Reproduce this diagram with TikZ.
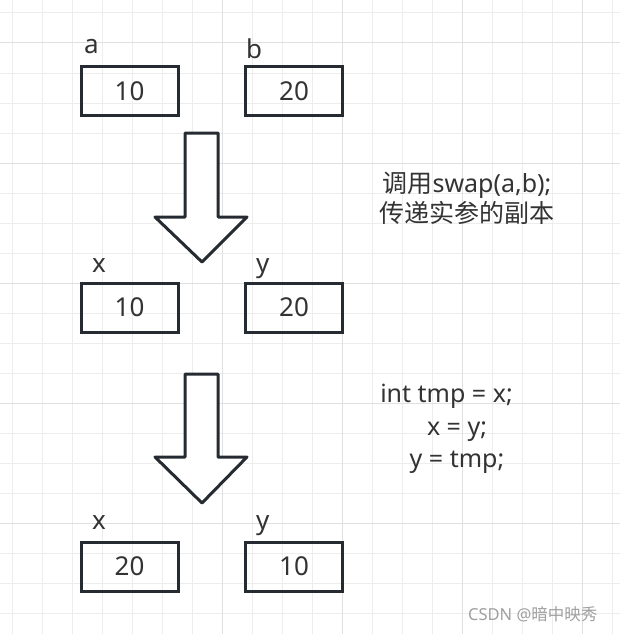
\documentclass[tikz,border=0pt]{standalone}
\usepackage{fontspec}
\setmainfont{Noto Sans}
\newfontfamily\cjk{Noto Sans CJK SC}
\definecolor{boxcol}{HTML}{252B31}
\definecolor{txtcol}{HTML}{333333}
\definecolor{gridcol}{HTML}{EDEDED}
\definecolor{majorcol}{HTML}{E0E0E0}
\begin{document}
\begin{tikzpicture}[x=1pt,y=-1pt]
\tikzstyle{every node}+=[inner sep=0pt, text=txtcol]
\tikzstyle{valbox}=[draw=boxcol, line width=3pt, minimum width=97pt, minimum height=49pt, font=\fontsize{26}{30}\selectfont]
\tikzstyle{varname}=[anchor=base west, font=\fontsize{26}{30}\selectfont]
\tikzstyle{bigarrow}=[draw=boxcol, fill=white, line width=3pt, line join=round]
\tikzstyle{note}=[anchor=base, font=\fontsize{25}{30}\selectfont]
\useasboundingbox (0,0) rectangle (620,634);
\fill[white] (0,0) rectangle (620,634);
% grid
\foreach \x in {12,42,...,612} \draw [gridcol, line width=1pt] (\x,0) -- (\x,634);
\foreach \y in {13,43,...,613} \draw [gridcol, line width=1pt] (0,\y) -- (620,\y);
\foreach \x in {222,342,462,582} \draw [majorcol, line width=1pt] (\x,0) -- (\x,634);
\foreach \y in {43,163,283,403,523} \draw [majorcol, line width=1pt] (0,\y) -- (620,\y);
% first row
\node [valbox] (a) at (129.5,91) {10};
\node [valbox] (b) at (294,91) {20};
\node [varname] (la) at (84,53) {a};
\node [varname] (lb) at (246,59) {b};
% arrow 1
\draw [bigarrow] (185,133) -- (218,133) -- (218,217) -- (247,217) -- (202,262) -- (155,217) -- (185,217) -- cycle;
\node [note] (call1) at (467,192) {{\cjk 调用}swap(a,b);};
\node [note] (call2) at (467,222) {\cjk 传递实参的副本};
% second row
\node [valbox] (x1) at (129.5,307.5) {10};
\node [valbox] (y1) at (294,307.5) {20};
\node [varname] (lx1) at (92,272) {x};
\node [varname] (ly1) at (256,272) {y};
% arrow 2
\draw [bigarrow] (185,374) -- (218,374) -- (218,457) -- (247,457) -- (202,503) -- (155,457) -- (185,457) -- cycle;
\node [note] (body1) at (446.5,402) {int tmp = x;};
\node [note] (body2) at (457,435) {x = y;};
\node [note] (body3) at (457,467) {y = tmp;};
% third row
\node [valbox] (x2) at (129.5,566.5) {20};
\node [valbox] (y2) at (294,566.5) {10};
\node [varname] (lx2) at (92,529) {x};
\node [varname] (ly2) at (256,529) {y};
% watermark
\node [anchor=base west, text=gray!75, font=\fontsize{16.5}{18}\selectfont] (mark) at (468,620) {CSDN @{\cjk 暗中映秀}};
\end{tikzpicture}
\end{document}
